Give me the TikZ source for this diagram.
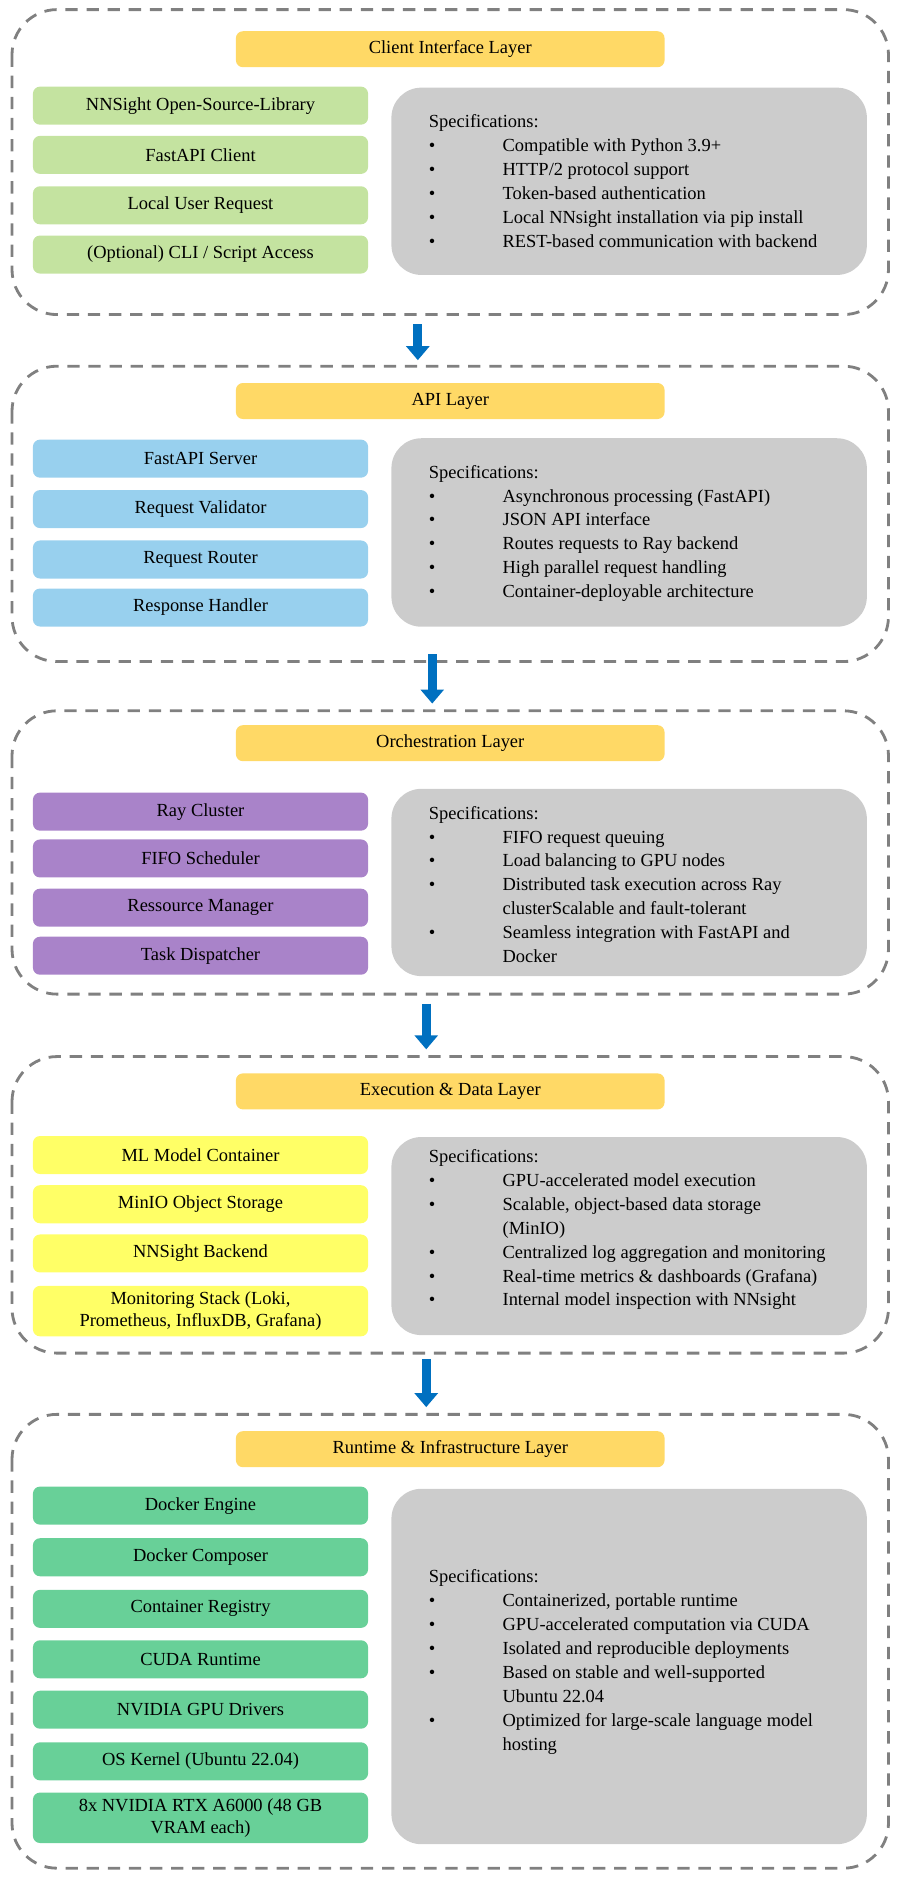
\documentclass[tikz,border=0pt]{standalone}
\usepackage{fontspec}
\setmainfont{Liberation Serif}
\usetikzlibrary{arrows.meta}
\definecolor{titleyel}{HTML}{FFD966}
\definecolor{cligreen}{HTML}{C4E3A0}
\definecolor{apiblue}{HTML}{98D0EE}
\definecolor{orchpurple}{HTML}{A983C9}
\definecolor{execyel}{HTML}{FFFF66}
\definecolor{rungreen}{HTML}{68D098}
\definecolor{specgray}{HTML}{CCCCCC}
\definecolor{dashgray}{HTML}{808080}
\definecolor{flowblue}{HTML}{0070C0}
\newcommand{\specrow}[1]{\textbullet & #1\\}
\begin{document}
\begin{tikzpicture}[x=0.024cm,y=-0.024cm,
    layer/.style={draw=dashgray, line width=1.6pt, dash pattern=on 7pt off 5pt, rounded corners=0.9cm},
    title/.style={fill=titleyel, rounded corners=4pt, minimum width=8.57cm, minimum height=0.72cm, font=\fontsize{10.5}{12}\selectfont},
    comp/.style={rounded corners=4pt, minimum width=6.7cm, minimum height=0.76cm, align=center, font=\fontsize{10.5}{12.5}\selectfont},
    spec/.style={fill=specgray, rounded corners=0.6cm},
    spectext/.style={anchor=north west, inner sep=0pt, font=\fontsize{10.5}{13.6}\selectfont},
    flow/.style={draw=flowblue, line width=5pt, -{Triangle[width=13pt,length=8pt]}}]
    \useasboundingbox (0,0) rectangle (750,1565);

    % Client Interface Layer
    \draw[layer] (10,8) rectangle (740,262);
    \node[title] (t1) at (375,41) {Client Interface Layer};
    \node[comp, fill=cligreen] (c1) at (167,88) {NNSight Open-Source-Library};
    \node[comp, fill=cligreen] (c2) at (167,129) {FastAPI Client};
    \node[comp, fill=cligreen] (c3) at (167,171) {Local User Request};
    \node[comp, fill=cligreen] (c4) at (167,212) {(Optional) CLI / Script Access};
    \fill[spec] (326,73) rectangle (722,229);
    \node[spectext] (s1) at (357,92) {\begin{tabular}{@{}p{1.05cm}l@{}}
        \multicolumn{2}{@{}l}{Specifications:}\\
        \specrow{Compatible with Python 3.9+}
        \specrow{HTTP/2 protocol support}
        \specrow{Token-based authentication}
        \specrow{Local NNsight installation via pip install}
        \specrow{REST-based communication with backend}
    \end{tabular}};

    % API Layer
    \draw[layer] (10,305) rectangle (740,551);
    \node[title] (t2) at (375,334) {API Layer};
    \node[comp, fill=apiblue] (a1) at (167,382) {FastAPI Server};
    \node[comp, fill=apiblue] (a2) at (167,424) {Request Validator};
    \node[comp, fill=apiblue] (a3) at (167,466) {Request Router};
    \node[comp, fill=apiblue] (a4) at (167,506) {Response Handler};
    \fill[spec] (326,365) rectangle (722,522);
    \node[spectext] (s2) at (357,384) {\begin{tabular}{@{}p{1.05cm}l@{}}
        \multicolumn{2}{@{}l}{Specifications:}\\
        \specrow{Asynchronous processing (FastAPI)}
        \specrow{JSON API interface}
        \specrow{Routes requests to Ray backend}
        \specrow{High parallel request handling}
        \specrow{Container-deployable architecture}
    \end{tabular}};

    % Orchestration Layer
    \draw[layer] (10,592) rectangle (740,828);
    \node[title] (t3) at (375,619) {Orchestration Layer};
    \node[comp, fill=orchpurple] (o1) at (167,676) {Ray Cluster};
    \node[comp, fill=orchpurple] (o2) at (167,715) {FIFO Scheduler};
    \node[comp, fill=orchpurple] (o3) at (167,756) {Ressource Manager};
    \node[comp, fill=orchpurple] (o4) at (167,796) {Task Dispatcher};
    \fill[spec] (326,657) rectangle (722,813);
    \node[spectext] (s3) at (357,668) {\begin{tabular}{@{}p{1.05cm}l@{}}
        \multicolumn{2}{@{}l}{Specifications:}\\
        \specrow{FIFO request queuing}
        \specrow{Load balancing to GPU nodes}
        \specrow{Distributed task execution across Ray}
        & clusterScalable and fault-tolerant\\
        \specrow{Seamless integration with FastAPI and}
        & Docker\\
    \end{tabular}};

    % Execution & Data Layer
    \draw[layer] (10,880) rectangle (740,1127);
    \node[title] (t4) at (375,909) {Execution \& Data Layer};
    \node[comp, fill=execyel] (e1) at (167,962) {ML Model Container};
    \node[comp, fill=execyel] (e2) at (167,1003) {MinIO Object Storage};
    \node[comp, fill=execyel] (e3) at (167,1044) {NNSight Backend};
    \node[comp, fill=execyel, minimum height=1.0cm] (e4) at (167,1092) {Monitoring Stack (Loki,\\Prometheus, InfluxDB, Grafana)};
    \fill[spec] (326,947) rectangle (722,1112);
    \node[spectext] (s4) at (357,954) {\begin{tabular}{@{}p{1.05cm}l@{}}
        \multicolumn{2}{@{}l}{Specifications:}\\
        \specrow{GPU-accelerated model execution}
        \specrow{Scalable, object-based data storage}
        & (MinIO)\\
        \specrow{Centralized log aggregation and monitoring}
        \specrow{Real-time metrics \& dashboards (Grafana)}
        \specrow{Internal model inspection with NNsight}
    \end{tabular}};

    % Runtime & Infrastructure Layer
    \draw[layer] (10,1178) rectangle (740,1556);
    \node[title] (t5) at (375,1207) {Runtime \& Infrastructure Layer};
    \node[comp, fill=rungreen] (r1) at (167,1254) {Docker Engine};
    \node[comp, fill=rungreen] (r2) at (167,1297) {Docker Composer};
    \node[comp, fill=rungreen] (r3) at (167,1340) {Container Registry};
    \node[comp, fill=rungreen] (r4) at (167,1382) {CUDA Runtime};
    \node[comp, fill=rungreen] (r5) at (167,1424) {NVIDIA GPU Drivers};
    \node[comp, fill=rungreen] (r6) at (167,1467) {OS Kernel (Ubuntu 22.04)};
    \node[comp, fill=rungreen, minimum height=1.0cm] (r7) at (167,1514) {8x NVIDIA RTX A6000 (48 GB\\VRAM each)};
    \fill[spec] (326,1240) rectangle (722,1536);
    \node[spectext] (s5) at (357,1304) {\begin{tabular}{@{}p{1.05cm}l@{}}
        \multicolumn{2}{@{}l}{Specifications:}\\
        \specrow{Containerized, portable runtime}
        \specrow{GPU-accelerated computation via CUDA}
        \specrow{Isolated and reproducible deployments}
        \specrow{Based on stable and well-supported}
        & Ubuntu 22.04\\
        \specrow{Optimized for large-scale language model}
        & hosting\\
    \end{tabular}};

    % flow arrows between layers
    \coordinate (f1a) at (348,270); \coordinate (f1b) at (348,300);
    \coordinate (f2a) at (360,545); \coordinate (f2b) at (360,586);
    \coordinate (f3a) at (355,836); \coordinate (f3b) at (355,874);
    \coordinate (f4a) at (355,1132); \coordinate (f4b) at (355,1172);
    \draw[flow] (f1a) -- (f1b);
    \draw[flow] (f2a) -- (f2b);
    \draw[flow] (f3a) -- (f3b);
    \draw[flow] (f4a) -- (f4b);
\end{tikzpicture}
\end{document}
